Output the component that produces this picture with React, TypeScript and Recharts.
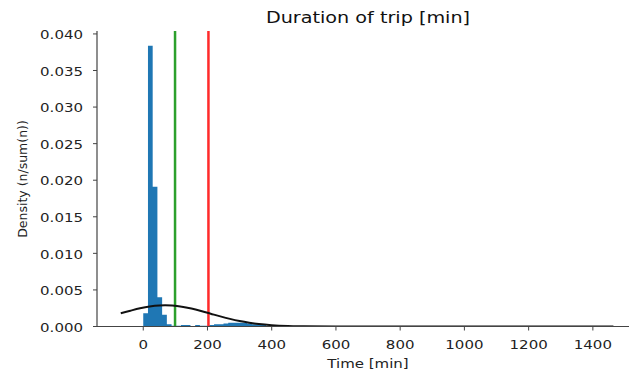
import React from 'react';
import { ComposedChart, Area, Line, XAxis, YAxis, ReferenceLine } from 'recharts';

// Histogram: bin width (min) and bin heights (density)
const BIN_WIDTH = 14.7;
const binHeights = [
  0.0018, 0.0384, 0.0191, 0.004, 0.0016, 0.0003, 0.0001, 0.0001, 0.0002, 0.0002,
  0, 0.0002, 0.0001, 0.0001, 0.0002, 0.0003, 0.0003, 0.0004, 0.0005, 0.0005,
  0.0005, 0.0005, 0.0004, 0.0003, 0.0003, 0.0002, 0.0001, 0.0001,
];

// Fitted normal curve
const curveX = [-70, -40, -10, 20, 50, 68, 90, 120, 150, 180, 210, 240, 270, 300, 330, 360, 400, 450, 500, 600, 800, 1000, 1200, 1464];
const curveY = [0.0018, 0.00216, 0.00249, 0.00274, 0.00288, 0.0029, 0.00286, 0.00271, 0.00245, 0.00212, 0.00175, 0.00138, 0.00104, 0.00075, 0.00052, 0.00034, 0.00018, 0.00007, 0.00003, 0, 0, 0, 0, 0];

// Vertical markers
const greenLineX = 99;
const redLineX = 203;

const xTicks = [0, 200, 400, 600, 800, 1000, 1200, 1400];
const yTicks = [0, 0.005, 0.01, 0.015, 0.02, 0.025, 0.03, 0.035, 0.04];

const histData = [
  ...binHeights.map((h, i) => ({ x: i * BIN_WIDTH, y: h })),
  { x: binHeights.length * BIN_WIDTH, y: 0 },
];
const curveData = curveX.map((x, i) => ({ x, y: curveY[i] }));

const FONT = 'DejaVu Sans';
const TEXT = '#222';
const AXIS = '#444';
const X_DOMAIN: [number, number] = [-144, 1553];

const XTick = (p: any) => (
  <g transform={`translate(${p.x},${p.y})`}>
    <text transform="scale(1.2,1)" textAnchor="middle" dy="0.71em" fontSize={12.5} fill={TEXT} fontFamily={FONT}>
      {p.payload.value}
    </text>
  </g>
);

const YTick = (p: any) => (
  <g transform={`translate(${p.x},${p.y})`}>
    <text transform="scale(1.2,1)" textAnchor="end" dy="0.42em" fontSize={12.5} fill={TEXT} fontFamily={FONT}>
      {Number(p.payload.value).toFixed(3)}
    </text>
  </g>
);

export default function App() {
  return (
    <div style={{ position: 'absolute', left: 0, top: 0, width: 629, height: 376, overflow: 'hidden', background: '#fff' }}>
      <ComposedChart width={660} height={376} margin={{ top: 31, right: 18, bottom: 0, left: 0 }}>
        <XAxis
          dataKey="x"
          type="number"
          domain={X_DOMAIN}
          allowDataOverflow
          ticks={xTicks}
          tick={XTick}
          tickSize={4}
          tickMargin={10}
          height={49.5}
          axisLine={{ stroke: AXIS, strokeWidth: 1.2 }}
          tickLine={{ stroke: AXIS }}
        />
        <XAxis
          xAxisId="top"
          orientation="top"
          dataKey="x"
          type="number"
          domain={X_DOMAIN}
          allowDataOverflow
          tick={false}
          tickLine={false}
          height={0}
          axisLine={{ stroke: AXIS, strokeWidth: 1.2 }}
        />
        <YAxis
          type="number"
          domain={[0, 0.0404]}
          allowDataOverflow
          ticks={yTicks}
          tick={YTick}
          tickSize={4}
          tickMargin={10}
          width={97}
          axisLine={{ stroke: AXIS, strokeWidth: 1.2 }}
          tickLine={{ stroke: AXIS }}
        />
        <Area
          data={histData}
          dataKey="y"
          type="stepAfter"
          stroke="none"
          fill="#1f77b4"
          fillOpacity={1}
          isAnimationActive={false}
          dot={false}
          activeDot={false}
        />
        <ReferenceLine x={greenLineX} stroke="#2ca02c" strokeWidth={2.5} />
        <ReferenceLine x={redLineX} stroke="#ff2a2a" strokeWidth={2.5} />
        <Line
          data={curveData}
          dataKey="y"
          type="monotone"
          stroke="#111"
          strokeWidth={2}
          dot={false}
          activeDot={false}
          isAnimationActive={false}
        />
      </ComposedChart>
      <svg width={629} height={376} style={{ position: 'absolute', left: 0, top: 0, pointerEvents: 'none' }}>
        <g transform="translate(368,23)">
          <text transform="scale(1.2,1)" textAnchor="middle" fontSize={16} fill="#111" fontFamily={FONT}>
            Duration of trip [min]
          </text>
        </g>
        <g transform="translate(368,368)">
          <text transform="scale(1.2,1)" textAnchor="middle" fontSize={12.5} fill={TEXT} fontFamily={FONT}>
            Time [min]
          </text>
        </g>
        <text
          transform="translate(27,179) rotate(-90)"
          textAnchor="middle"
          fontSize={12.5}
          fill={TEXT}
          fontFamily={FONT}
        >
          Density (n/sum(n))
        </text>
      </svg>
    </div>
  );
}
